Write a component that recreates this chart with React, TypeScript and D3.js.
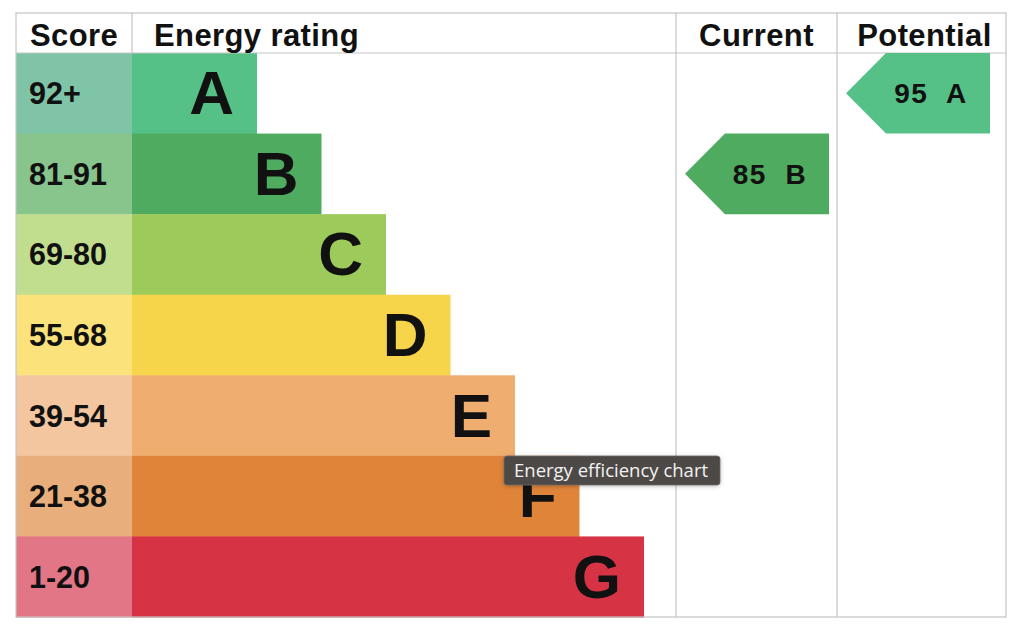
import * as d3 from 'd3'

// EPC bands, best to worst
const bands = ['A', 'B', 'C', 'D', 'E', 'F', 'G']
const scoreRanges = ['92+', '81-91', '69-80', '55-68', '39-54', '21-38', '1-20']
const bandColors = ['#55c187', '#4fab5f', '#9dcb5b', '#f7d54b', '#f0ad70', '#e0843a', '#d63445']
const scoreColors = ['#7fc4a6', '#88c58d', '#c1de8f', '#fbe27b', '#f4c6a0', '#e8ae7b', '#e27686']

const currentScore = 85
const currentBand = 'B'
const potentialScore = 95
const potentialBand = 'A'

const width = 1024
const height = 638
const font = '"Liberation Sans", Arial, Helvetica, sans-serif'

const left = 16
const top = 13
const right = 1006
const bottom = 617
const headerH = 40
const colScore = 132
const colCurrent = 676
const colPotential = 837
const gridColor = '#c4c4c4'

const App = () => {
  const y = d3
    .scaleBand<string>()
    .domain(bands)
    .range([top + headerH, bottom])
    .padding(0)

  // bar length grows with each worse band
  const barEnd = d3
    .scaleLinear()
    .domain([0, bands.length - 1])
    .range([257, 644])

  const mid = (b: string) => (y(b) as number) + y.bandwidth() / 2

  const arrow = (x0: number, x1: number, band: string) => {
    const y0 = y(band) as number
    const h = y.bandwidth()
    const tip = 40
    const p = d3.path()
    p.moveTo(x0, y0 + h / 2)
    p.lineTo(x0 + tip, y0)
    p.lineTo(x1, y0)
    p.lineTo(x1, y0 + h)
    p.lineTo(x0 + tip, y0 + h)
    p.closePath()
    return p.toString()
  }

  const markers = [
    { score: currentScore, band: currentBand, x0: 685, x1: 829 },
    { score: potentialScore, band: potentialBand, x0: 846, x1: 990 },
  ]

  return (
    <svg
      width={width}
      height={height}
      style={{ position: 'absolute', left: 0, top: 0, background: '#fff' }}
      fontFamily={font}
    >
      <defs>
        <filter id="tipShadow" x="-10%" y="-30%" width="120%" height="170%">
          <feDropShadow dx="0" dy="1" stdDeviation="2" floodColor="#000" floodOpacity="0.25" />
        </filter>
      </defs>

      {/* score cells and band bars */}
      {bands.map((b, i) => (
        <g key={b}>
          <rect
            x={left}
            y={y(b)}
            width={colScore - left}
            height={y.bandwidth() + 0.5}
            fill={scoreColors[i]}
          />
          <rect
            x={colScore}
            y={y(b)}
            width={barEnd(i) - colScore}
            height={y.bandwidth() + 0.5}
            fill={bandColors[i]}
          />
          <text
            x={29}
            y={mid(b) + 11}
            fontSize={30.5}
            fontWeight="bold"
            fill="#111"
          >
            {scoreRanges[i]}
          </text>
          <text
            x={barEnd(i) - 23}
            y={mid(b) + 21}
            fontSize={62}
            fontWeight="bold"
            textAnchor="end"
            fill="#111"
          >
            {b}
          </text>
        </g>
      ))}

      {/* grid */}
      <g stroke={gridColor} strokeWidth={1.2} fill="none">
        <rect x={left} y={top} width={right - left} height={bottom - top} />
        <line x1={left} x2={right} y1={top + headerH} y2={top + headerH} />
        <line x1={colScore} x2={colScore} y1={top} y2={top + headerH} />
        <line x1={colCurrent} x2={colCurrent} y1={top} y2={bottom} />
        <line x1={colPotential} x2={colPotential} y1={top} y2={bottom} />
      </g>

      {/* headers */}
      <g fontSize={31} fontWeight="bold" fill="#111" letterSpacing={0.4}>
        <text x={30} y={46}>Score</text>
        <text x={154} y={46}>Energy rating</text>
        <text x={(colCurrent + colPotential) / 2} y={46} textAnchor="middle">Current</text>
        <text x={(colPotential + right) / 2 + 3} y={46} textAnchor="middle">Potential</text>
      </g>

      {/* current / potential arrows */}
      {markers.map(m => {
        const i = bands.indexOf(m.band)
        return (
          <g key={m.x0}>
            <path d={arrow(m.x0, m.x1, m.band)} fill={bandColors[i]} />
            <text
              x={(m.x0 + 40 + m.x1) / 2 - 7}
              y={mid(m.band) + 10}
              fontSize={28}
              fontWeight="bold"
              textAnchor="middle"
              fill="#111"
              letterSpacing={1.5}
              style={{ whiteSpace: 'pre' }}
            >
              {`${m.score}  ${m.band}`}
            </text>
          </g>
        )
      })}

      {/* hover title */}
      <g filter="url(#tipShadow)">
        <rect x={504} y={456} width={216} height={29} rx={3} fill="#4e4a47" stroke="#6b6764" strokeWidth={0.8} />
      </g>
      <text x={514} y={477} fontSize={18.5} fill="#f2f2f2" fontFamily='"Open Sans", "DejaVu Sans", sans-serif'>
        Energy efficiency chart
      </text>
    </svg>
  )
}

export default App
